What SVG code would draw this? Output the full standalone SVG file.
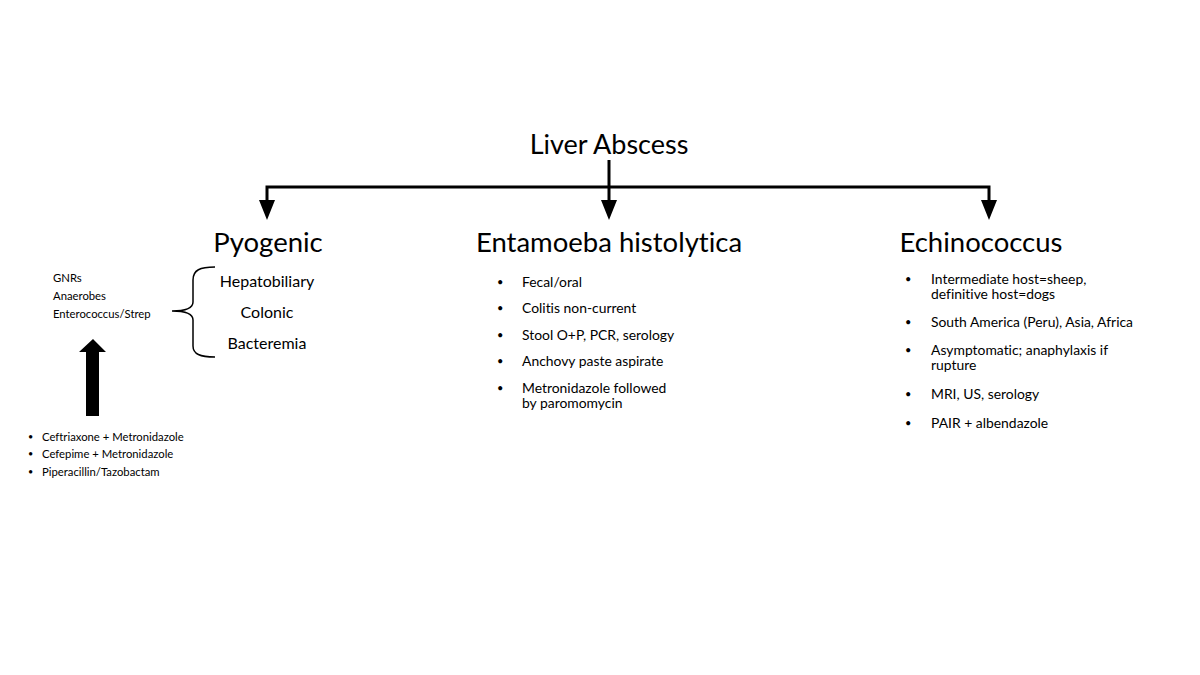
<svg xmlns="http://www.w3.org/2000/svg" width="1200" height="675" viewBox="0 0 1200 675">
<style>
text{font-family:Lato,"Liberation Sans",sans-serif;fill:#000;font-variant-ligatures:none}
.title{font-size:27px;text-anchor:middle}
.head{font-size:27.5px;text-anchor:middle}
.mid{font-size:16px;text-anchor:middle}
.item{font-size:13.9px}
.small{font-size:11.3px}
.b{font-size:11px}
.bs{font-size:9px}
.line{stroke:#000;stroke-width:3;fill:none}
.brace{stroke:#000;stroke-width:1.5;fill:none}
</style>
<rect width="1200" height="675" fill="#fff"/>
<g id="connectors">
<path class="line" d="M609,160 V200"/>
<path d="M601,200 L617,200 L609,220 Z" fill="#000"/>
<path class="line" d="M267,200 V187 H989 V200"/>
<path d="M259,200 L275,200 L267,220 Z" fill="#000"/>
<path d="M981,200 L997,200 L989,220 Z" fill="#000"/>
<path class="brace" d="M215,267 C200,267 193,270 193,280 V302 C193,309 185,311 172,311 C185,311 193,313 193,320 V346 C193,354 200,357 215,357"/>
<path d="M86,416 V352 H79 L93,339 L106,352 H99 V416 Z" fill="#000"/>
</g>
<g id="liver-abscess"><text class="title" x="609" y="154">Liver Abscess</text></g>
<g id="pyogenic">
<text class="head" x="268" y="252">Pyogenic</text>
<text class="mid" x="267" y="287">Hepatobiliary</text>
<text class="mid" x="267" y="318">Colonic</text>
<text class="mid" x="267" y="349">Bacteremia</text>
</g>
<g id="organisms">
<text class="small" x="53" y="282">GNRs</text>
<text class="small" x="53" y="300">Anaerobes</text>
<text class="small" x="53" y="318">Enterococcus/Strep</text>
</g>
<g id="antibiotics">
<text class="bs" x="28" y="440">•</text><text class="small" x="42" y="441">Ceftriaxone + Metronidazole</text>
<text class="bs" x="28" y="457">•</text><text class="small" x="42" y="458">Cefepime + Metronidazole</text>
<text class="bs" x="28" y="475">•</text><text class="small" x="42" y="476">Piperacillin/Tazobactam</text>
</g>
<g id="entamoeba">
<text class="head" x="609" y="252">Entamoeba histolytica</text>
<text class="b" x="497" y="286">•</text><text class="item" x="522" y="287">Fecal/oral</text>
<text class="b" x="497" y="312">•</text><text class="item" x="522" y="313">Colitis non-current</text>
<text class="b" x="497" y="339">•</text><text class="item" x="522" y="340">Stool O+P, PCR, serology</text>
<text class="b" x="497" y="365">•</text><text class="item" x="522" y="366">Anchovy paste aspirate</text>
<text class="b" x="497" y="392">•</text><text class="item" x="522" y="393">Metronidazole followed</text>
<text class="item" x="522" y="408">by paromomycin</text>
</g>
<g id="echinococcus">
<text class="head" x="981" y="252">Echinococcus</text>
<text class="b" x="905" y="283">•</text><text class="item" x="931" y="284">Intermediate host=sheep,</text>
<text class="item" x="931" y="299">definitive host=dogs</text>
<text class="b" x="905" y="326">•</text><text class="item" x="931" y="327">South America (Peru), Asia, Africa</text>
<text class="b" x="905" y="354">•</text><text class="item" x="931" y="355">Asymptomatic; anaphylaxis if</text>
<text class="item" x="931" y="370">rupture</text>
<text class="b" x="905" y="398">•</text><text class="item" x="931" y="399">MRI, US, serology</text>
<text class="b" x="905" y="427">•</text><text class="item" x="931" y="428">PAIR + albendazole</text>
</g>
</svg>
